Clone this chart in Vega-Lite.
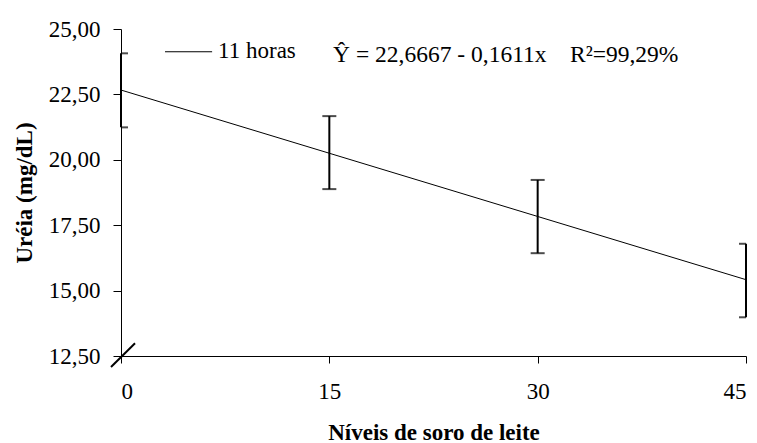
{
  "$schema": "https://vega.github.io/schema/vega-lite/v6.json",
  "width": 625,
  "height": 327,
  "autosize": "none",
  "padding": {"left": 121, "top": 29, "right": 11, "bottom": 87},
  "background": "white",
  "config": {
    "view": {"stroke": null},
    "font": "'Liberation Serif', 'Times New Roman', serif",
    "axis": {
      "labelFont": "'Liberation Serif', 'Times New Roman', serif",
      "titleFont": "'Liberation Serif', 'Times New Roman', serif",
      "labelColor": "black",
      "titleColor": "black",
      "domainColor": "black",
      "tickColor": "black",
      "domainWidth": 1,
      "tickWidth": 1,
      "grid": false,
      "labelFontSize": 23,
      "titleFontSize": 23,
      "titleFontWeight": "bold"
    }
  },
  "datasets": {
    "medias": [
      {"nivel": 0, "inferior": 21.24, "superior": 24.07},
      {"nivel": 15, "inferior": 18.88, "superior": 21.67},
      {"nivel": 30, "inferior": 16.43, "superior": 19.23},
      {"nivel": 45, "inferior": 13.98, "superior": 16.79}
    ],
    "reta": [
      {"nivel": 0, "ureia": 22.6667},
      {"nivel": 45, "ureia": 15.4172}
    ]
  },
  "layer": [
    {
      "data": {"name": "reta"},
      "mark": {"type": "line", "color": "black", "strokeWidth": 1},
      "encoding": {
        "x": {
          "field": "nivel",
          "type": "quantitative",
          "scale": {"domain": [0, 45], "nice": false, "zero": false},
          "axis": {
            "values": [0, 15, 30, 45],
            "tickSize": 7,
            "labelPadding": 17,
            "titlePadding": 18,
            "title": "Níveis de soro de leite"
          }
        },
        "y": {
          "field": "ureia",
          "type": "quantitative",
          "scale": {"domain": [12.5, 25], "nice": false, "zero": false},
          "axis": {
            "values": [12.5, 15, 17.5, 20, 22.5, 25],
            "labelExpr": "replace(format(datum.value, '.2f'), '.', ',')",
            "tickSize": 8,
            "labelPadding": 13,
            "titlePadding": 12,
            "title": "Uréia (mg/dL)"
          }
        }
      }
    },
    {
      "data": {"name": "medias"},
      "mark": {"type": "rule", "color": "black", "strokeWidth": 2},
      "encoding": {
        "x": {"field": "nivel", "type": "quantitative"},
        "y": {"field": "inferior", "type": "quantitative"},
        "y2": {"field": "superior"}
      }
    },
    {
      "data": {"name": "medias"},
      "mark": {"type": "tick", "orient": "horizontal", "color": "black", "size": 14, "thickness": 2, "clip": true},
      "encoding": {
        "x": {"field": "nivel", "type": "quantitative"},
        "y": {"field": "inferior", "type": "quantitative"}
      }
    },
    {
      "data": {"name": "medias"},
      "mark": {"type": "tick", "orient": "horizontal", "color": "black", "size": 14, "thickness": 2, "clip": true},
      "encoding": {
        "x": {"field": "nivel", "type": "quantitative"},
        "y": {"field": "superior", "type": "quantitative"}
      }
    },
    {
      "data": {"values": [{}]},
      "mark": {"type": "rule", "color": "black", "strokeWidth": 2, "clip": false},
      "encoding": {
        "x": {"datum": -0.72},
        "x2": {"datum": 1.01},
        "y": {"datum": 12.08},
        "y2": {"datum": 12.985}
      }
    },
    {
      "data": {"values": [{}]},
      "mark": {"type": "rule", "color": "black", "strokeWidth": 1},
      "encoding": {
        "x": {"datum": 3.17},
        "x2": {"datum": 6.56},
        "y": {"datum": 24.13}
      }
    },
    {
      "data": {"values": [{"rotulo": "11 horas"}]},
      "mark": {"type": "text", "align": "left", "baseline": "alphabetic", "fontSize": 23, "font": "'Liberation Serif', 'Times New Roman', serif", "color": "black"},
      "encoding": {
        "x": {"datum": 6.99},
        "y": {"datum": 23.88},
        "text": {"field": "rotulo"}
      }
    },
    {
      "data": {"values": [{"rotulo": "Ŷ = 22,6667 - 0,1611x\u00a0\u00a0\u00a0\u00a0R²=99,29%"}]},
      "mark": {"type": "text", "align": "left", "baseline": "alphabetic", "fontSize": 23.5, "font": "'Liberation Serif', 'Times New Roman', serif", "color": "black"},
      "encoding": {
        "x": {"datum": 15.27},
        "y": {"datum": 23.75},
        "text": {"field": "rotulo"}
      }
    }
  ]
}
